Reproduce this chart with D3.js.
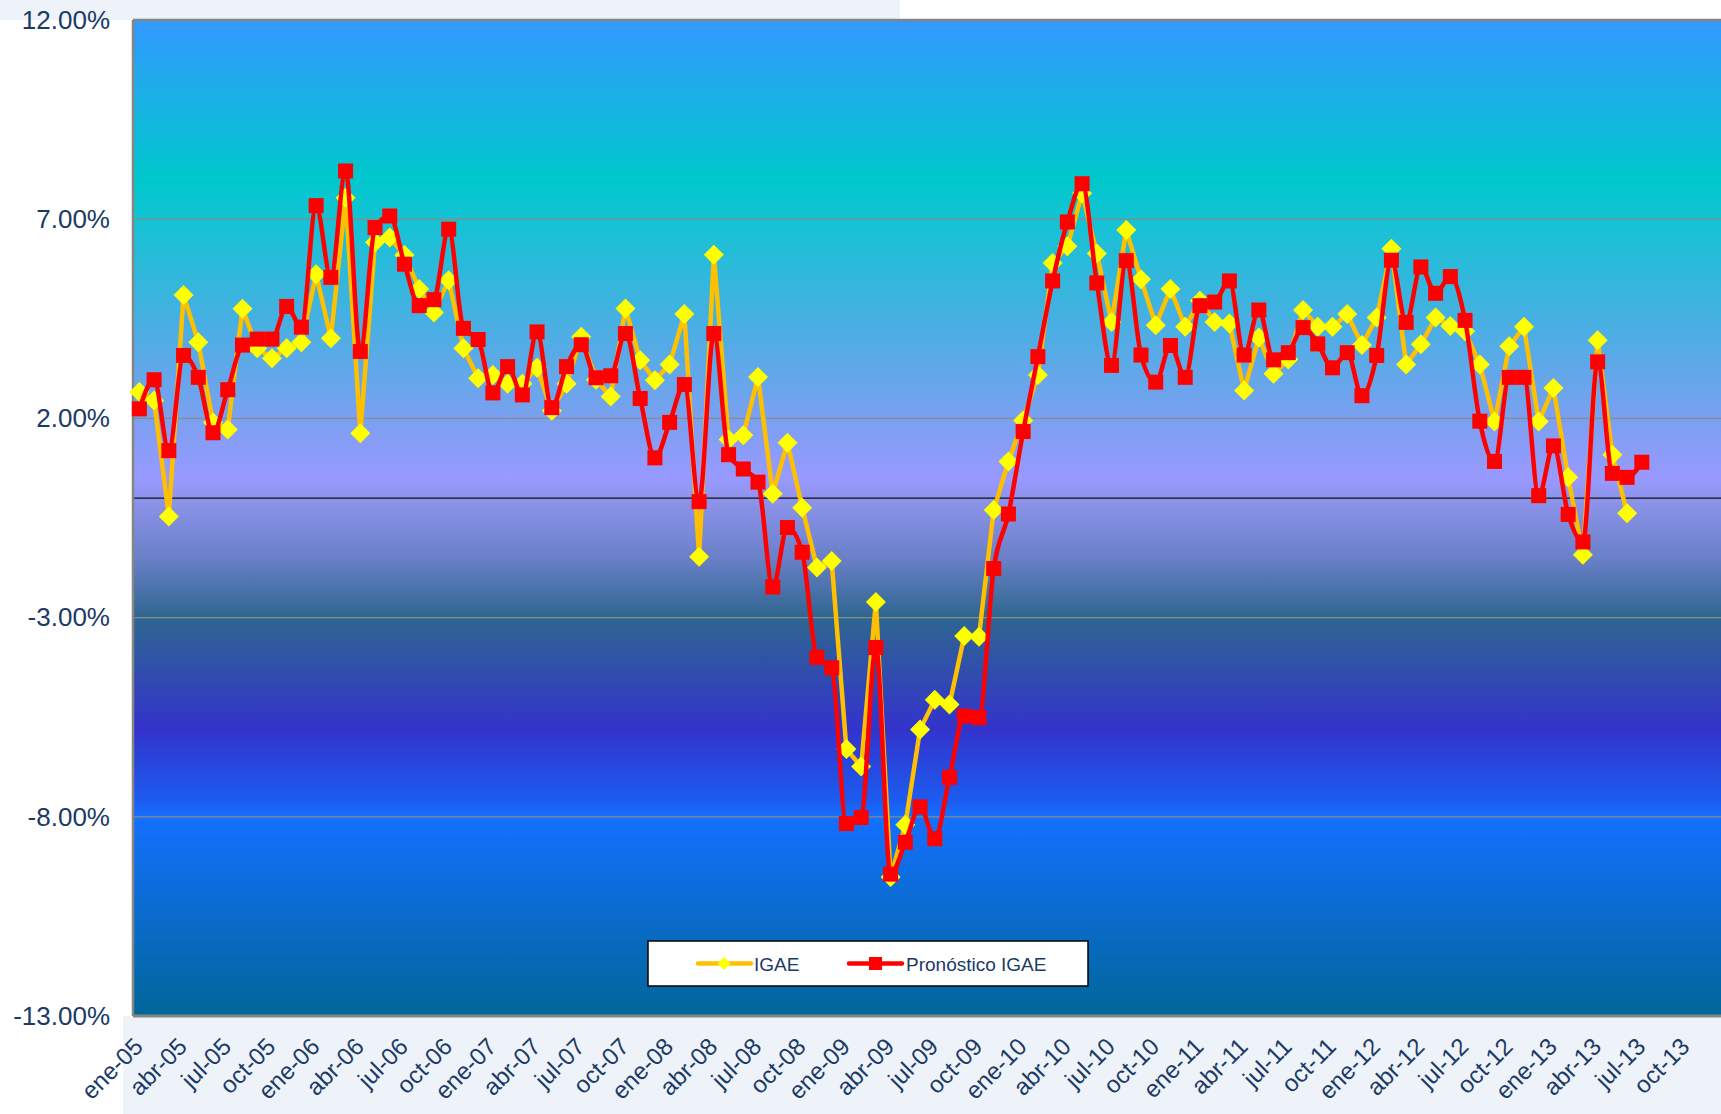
<!DOCTYPE html>
<html>
<head>
<meta charset="utf-8">
<script src="https://cdn.jsdelivr.net/npm/d3@7"></script>
<style>
  html, body { margin: 0; padding: 0; background: #ffffff; }
  svg { display: block; font-family: "Liberation Sans", Arial, sans-serif; }
</style>
</head>
<body>
<svg id="chart" width="1721" height="1114"></svg>
<script>
// ---------- DATA ----------
const monthAbbr = ["ene","feb","mar","abr","may","jun","jul","ago","sep","oct","nov","dic"];
const years = ["05","06","07","08","09","10","11","12","13"];
const lastMonthIndex = 9; // categories end at oct-13

const seriesNames = ["IGAE", "Pronóstico IGAE"];

// IGAE, ene-05 .. jun-13 (annual % change)
const igae = [
  2.66, 2.45, -0.46, 5.10, 3.91, 1.90, 1.72, 4.75, 3.76, 3.51, 3.76, 3.91,
  5.62, 4.01, 7.54, 1.63, 6.42, 6.54, 6.10, 5.25, 4.66, 5.47, 3.76, 3.01,
  3.09, 2.87, 2.87, 3.27, 2.19, 2.87, 4.05, 2.97, 2.55, 4.76, 3.46, 2.96,
  3.35, 4.62, -1.47, 6.11, 1.47, 1.58, 3.04, 0.11, 1.39, -0.24, -1.74, -1.58,
  -6.30, -6.74, -2.61, -9.51, -8.20, -5.81, -5.06, -5.18, -3.46, -3.48, -0.30, 0.92,
  1.95, 3.09, 5.90, 6.32, 7.65, 6.14, 4.42, 6.73, 5.49, 4.34, 5.25, 4.30,
  4.95, 4.42, 4.38, 2.70, 4.03, 3.12, 3.48, 4.72, 4.30, 4.30, 4.62, 3.84,
  4.53, 6.26, 3.35, 3.86, 4.53, 4.32, 4.19, 3.35, 1.92, 3.81, 4.30, 1.92,
  2.76, 0.52, -1.42, 3.96, 1.09, -0.38
];

// Pronóstico IGAE, ene-05 .. jul-13
const pronostico = [
  2.24, 2.97, 1.19, 3.58, 3.03, 1.64, 2.72, 3.84, 3.99, 3.99, 4.81, 4.29,
  7.34, 5.54, 8.21, 3.68, 6.79, 7.08, 5.87, 4.83, 4.98, 6.75, 4.26, 3.98,
  2.64, 3.30, 2.59, 4.17, 2.27, 3.30, 3.85, 3.02, 3.07, 4.13, 2.50, 1.01,
  1.90, 2.85, -0.09, 4.13, 1.09, 0.73, 0.40, -2.23, -0.74, -1.36, -4.00, -4.26,
  -8.17, -8.02, -3.75, -9.44, -8.64, -7.75, -8.55, -7.01, -5.47, -5.51, -1.77, -0.40,
  1.67, 3.55, 5.45, 6.93, 7.89, 5.40, 3.33, 5.96, 3.59, 2.91, 3.83, 3.03,
  4.83, 4.92, 5.45, 3.59, 4.72, 3.47, 3.65, 4.28, 3.87, 3.27, 3.65, 2.57,
  3.58, 5.97, 4.41, 5.80, 5.14, 5.56, 4.46, 1.93, 0.92, 3.03, 3.03, 0.06,
  1.31, -0.41, -1.10, 3.42, 0.62, 0.52, 0.90
];

const yTicks = [-13, -8, -3, 2, 7, 12];

// categories (months)
const months = [];
years.forEach((y, yi) => {
  monthAbbr.forEach((m, mi) => {
    if (yi < years.length - 1 || mi <= lastMonthIndex) months.push(m + "-" + y);
  });
});
const tickLabels = months.filter((d, i) => i % 3 === 0);

// ---------- LAYOUT ----------
const W = 1721, H = 1114;
const plotLeft = 133, plotTop = 20, plotBottom = 1016, plotRight = 1721;
const step = 14.73;

const svg = d3.select("#chart");

const x = d3.scaleBand().domain(months).range([132, 132 + months.length * step]).padding(0);
const xc = d => x(d) + x.bandwidth() / 2;
const y = d3.scaleLinear().domain([-13, 12]).range([plotBottom, plotTop]);

// page backdrop (pale)
svg.append("rect").attr("x", 0).attr("y", 0).attr("width", W).attr("height", H).attr("fill", "#ffffff");
svg.append("rect").attr("x", 0).attr("y", 0).attr("width", 900).attr("height", plotTop).attr("fill", "#eef3f9");
svg.append("rect").attr("x", plotLeft - 10).attr("y", plotBottom).attr("width", W - plotLeft + 10).attr("height", H - plotBottom).attr("fill", "#eef3f9");

// gradient
const defs = svg.append("defs");
const grad = defs.append("linearGradient").attr("id", "bg")
  .attr("gradientUnits", "userSpaceOnUse")
  .attr("x1", 0).attr("x2", 0).attr("y1", plotTop).attr("y2", plotBottom);
const stops = [
  [12, "#3399ff"], [8.0, "#00c8cc"], [7, "#14c3d4"], [4.5, "#46b0e2"],
  [2, "#7aa0f0"], [0.5, "#9999ff"], [0, "#8e94ec"], [-1.5, "#6a80c8"],
  [-3, "#2e6690"], [-5.8, "#3333cc"], [-7.6, "#1c5cf0"], [-8, "#1470ff"],
  [-13, "#006699"]
];
stops.forEach(([v, c]) => {
  grad.append("stop").attr("offset", (y(v) - plotTop) / (plotBottom - plotTop)).attr("stop-color", c);
});

svg.append("rect").attr("x", plotLeft).attr("y", plotTop)
  .attr("width", plotRight - plotLeft).attr("height", plotBottom - plotTop)
  .attr("fill", "url(#bg)");

// gridlines
svg.append("g").selectAll("line").data(yTicks.filter(v => v !== -13 && v !== 12)).join("line")
  .attr("x1", plotLeft).attr("x2", plotRight)
  .attr("y1", d => y(d)).attr("y2", d => y(d))
  .attr("stroke", "#8a8a8a").attr("stroke-width", 1.2);

// zero line
svg.append("line").attr("x1", plotLeft).attr("x2", plotRight)
  .attr("y1", y(0)).attr("y2", y(0)).attr("stroke", "#111").attr("stroke-width", 1.3);

// plot border
svg.append("line").attr("x1", plotLeft).attr("x2", plotRight).attr("y1", plotTop).attr("y2", plotTop)
  .attr("stroke", "#858585").attr("stroke-width", 2.5);
svg.append("line").attr("x1", plotLeft).attr("x2", plotRight).attr("y1", plotBottom).attr("y2", plotBottom)
  .attr("stroke", "#858585").attr("stroke-width", 3);
svg.append("line").attr("x1", plotLeft).attr("x2", plotLeft).attr("y1", plotTop).attr("y2", plotBottom)
  .attr("stroke", "#858585").attr("stroke-width", 2.5);

// y axis
const yAxis = d3.axisLeft(y).tickValues(yTicks).tickSize(0).tickPadding(0)
  .tickFormat(d => d.toFixed(2) + "%");
const gy = svg.append("g").attr("transform", `translate(${110},0)`).call(yAxis);
gy.select(".domain").remove();
gy.selectAll("text").attr("fill", "#1b3a66").style("font-size", "26px")
  .style("font-family", "'Liberation Sans', Arial, sans-serif");

// x axis labels
const xAxis = d3.axisBottom(x).tickValues(tickLabels).tickSize(0).tickPadding(0);
const gx = svg.append("g").attr("transform", `translate(0,${plotBottom})`).call(xAxis);
gx.select(".domain").remove();
gx.selectAll(".tick text")
  .attr("fill", "#1b3a66").style("font-size", "24px")
  .style("font-family", "'Liberation Sans', Arial, sans-serif")
  .attr("text-anchor", "end")
  .attr("dy", 0)
  .attr("transform", "translate(5,32) rotate(-45)");

// lines
const lineLinear = d3.line().x((d, i) => xc(months[i])).y(d => y(d));
const lineSmooth = d3.line().x((d, i) => xc(months[i])).y(d => y(d)).curve(d3.curveMonotoneX);

const diamond = "M0,-10 L10,0 L0,10 L-10,0 Z";

// IGAE series
svg.append("path").datum(igae).attr("d", lineLinear)
  .attr("fill", "none").attr("stroke", "#ffc000").attr("stroke-width", 4.5).attr("stroke-linejoin", "round");
svg.append("g").selectAll("path").data(igae).join("path")
  .attr("d", diamond)
  .attr("transform", (d, i) => `translate(${xc(months[i])},${y(d)})`)
  .attr("fill", "#ffff00");

// Pronóstico series
svg.append("path").datum(pronostico).attr("d", lineSmooth)
  .attr("fill", "none").attr("stroke", "#ff0000").attr("stroke-width", 4.5).attr("stroke-linejoin", "round");
svg.append("g").selectAll("rect").data(pronostico).join("rect")
  .attr("x", (d, i) => xc(months[i]) - 7.5).attr("y", d => y(d) - 7.5)
  .attr("width", 15).attr("height", 15).attr("fill", "#ff0000");

// legend
const lg = svg.append("g");
lg.append("rect").attr("x", 648).attr("y", 941).attr("width", 440).attr("height", 45)
  .attr("fill", "#ffffff").attr("stroke", "#000").attr("stroke-width", 1.5);
const ly = 963.5;
lg.append("line").attr("x1", 698).attr("x2", 751).attr("y1", ly).attr("y2", ly)
  .attr("stroke", "#ffc000").attr("stroke-width", 4.5).attr("stroke-linecap", "round");
lg.append("path").attr("d", "M0,-6.5 L6.5,0 L0,6.5 L-6.5,0 Z").attr("transform", `translate(724,${ly})`).attr("fill", "#ffff00");
lg.append("text").attr("x", 754).attr("y", ly + 7).text(seriesNames[0])
  .attr("fill", "#1b3a66").style("font-size", "19px");
lg.append("line").attr("x1", 849).attr("x2", 902).attr("y1", ly).attr("y2", ly)
  .attr("stroke", "#ff0000").attr("stroke-width", 4.5).attr("stroke-linecap", "round");
lg.append("rect").attr("x", 869).attr("y", ly - 6.5).attr("width", 13).attr("height", 13).attr("fill", "#ff0000");
lg.append("text").attr("x", 906).attr("y", ly + 7).text(seriesNames[1])
  .attr("fill", "#1b3a66").style("font-size", "19px");
</script>
</body>
</html>
